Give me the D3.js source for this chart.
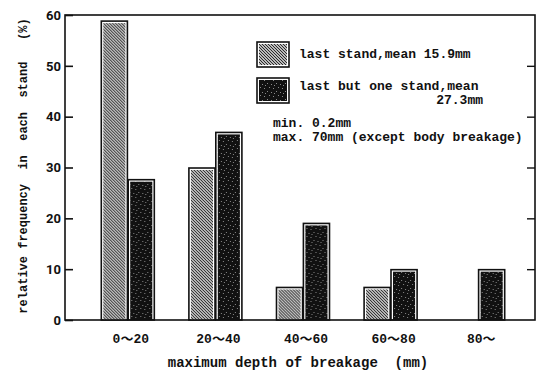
<!DOCTYPE html>
<html>
<head>
<meta charset="utf-8">
<script src="https://cdn.jsdelivr.net/npm/d3@7"></script>
<style>
  body { margin: 0; background: #fff; }
  text { fill: #111; }
</style>
</head>
<body>
<div id="chart"></div>
<script>
// data
var categories = ["0～20", "20～40", "40～60", "60～80", "80～"];
var series = ["last", "lastButOne"];
var lastStand = [58.8, 29.9, 6.4, 6.4, 0];
var lastButOneStand = [27.6, 36.9, 19.0, 9.9, 9.9];
var yTicks = [0, 10, 20, 30, 40, 50, 60];

var W = 546, H = 372;
var margin = { top: 15, right: 11, bottom: 52, left: 65 };
var width = W - margin.left - margin.right,
    height = H - margin.top - margin.bottom;

var mono = "'Liberation Mono', 'DejaVu Sans Mono', 'Noto Sans CJK JP', monospace";

var svg = d3.select("#chart").append("svg")
    .attr("width", W)
    .attr("height", H);

// patterns: fine diagonal hatch and dark speckle
var defs = svg.append("defs");
var hatch = defs.append("pattern")
    .attr("id", "hatch")
    .attr("patternUnits", "userSpaceOnUse")
    .attr("width", 3).attr("height", 3);
hatch.append("rect").attr("width", 3).attr("height", 3).attr("fill", "#fff");
hatch.append("path")
    .attr("d", "M-1,-1 L4,4 M-1,2 L1,4 M2,-1 L4,1")
    .attr("stroke", "#222").attr("stroke-width", 1.2);

var speck = defs.append("pattern")
    .attr("id", "speck")
    .attr("patternUnits", "userSpaceOnUse")
    .attr("width", 9).attr("height", 8);
speck.append("rect").attr("width", 9).attr("height", 8).attr("fill", "#111");
[[1, 1], [5, 2], [3, 5], [7, 6], [8, 3]].forEach(function(p) {
  speck.append("rect").attr("x", p[0]).attr("y", p[1])
      .attr("width", 1).attr("height", 1).attr("fill", "#888");
});

var g = svg.append("g")
    .attr("transform", "translate(" + margin.left + "," + margin.top + ")");

// scales
var x = d3.scaleBand()
    .domain(categories)
    .range([19, 457]);

var xs = d3.scaleBand()
    .domain(series)
    .range([0, 53])
    .paddingInner(0.03);

var y = d3.scaleLinear()
    .domain([0, 60])
    .range([height, 0]);

var rows = categories.map(function(c, i) {
  return { cat: c, values: [
    { key: "last", v: lastStand[i] },
    { key: "lastButOne", v: lastButOneStand[i] }
  ] };
});

// bars
var grp = g.selectAll(".grp")
    .data(rows)
    .enter().append("g")
      .attr("class", "grp")
      .attr("transform", function(d) {
        return "translate(" + (x(d.cat) + x.bandwidth() / 2 - 26.5) + ",0)";
      });

var bar = grp.selectAll(".bar")
    .data(function(d) { return d.values.filter(function(e) { return e.v > 0; }); })
    .enter().append("g")
      .attr("class", "bar");

bar.append("rect")
    .attr("x", function(d) { return xs(d.key); })
    .attr("y", function(d) { return y(d.v); })
    .attr("width", xs.bandwidth())
    .attr("height", function(d) { return height - y(d.v); })
    .attr("fill", "#fff")
    .attr("stroke", "#111")
    .attr("stroke-width", 1.6);

bar.append("rect")
    .attr("x", function(d) { return xs(d.key) + 2; })
    .attr("y", function(d) { return y(d.v) + 2; })
    .attr("width", xs.bandwidth() - 4)
    .attr("height", function(d) { return Math.max(0, height - y(d.v) - 2); })
    .attr("fill", function(d) { return d.key == "last" ? "url(#hatch)" : "url(#speck)"; });

// frame
g.append("rect")
    .attr("width", width)
    .attr("height", height)
    .attr("fill", "none")
    .attr("stroke", "#111")
    .attr("stroke-width", 1.6);

// left axis, ticks inward
var yAxis = g.append("g")
    .call(d3.axisLeft(y).tickValues(yTicks).tickSize(-8).tickPadding(4));
yAxis.select(".domain").remove();
yAxis.selectAll("line").attr("stroke", "#111").attr("stroke-width", 1.6);
yAxis.selectAll("text")
    .attr("font-family", "Roboto, 'DejaVu Sans', sans-serif")
    .attr("font-weight", "bold")
    .attr("font-size", 13);

// right axis, ticks inward
var yAxisR = g.append("g")
    .attr("transform", "translate(" + width + ",0)")
    .call(d3.axisRight(y).tickValues(yTicks.slice(1, 6)).tickSize(-8).tickFormat(""));
yAxisR.select(".domain").remove();
yAxisR.selectAll("line").attr("stroke", "#111").attr("stroke-width", 1.4);

// category labels
g.selectAll(".xlab")
    .data(categories)
    .enter().append("text")
      .attr("class", "xlab")
      .attr("x", function(d) { return x(d) + x.bandwidth() / 2 + 3; })
      .attr("y", height + 23)
      .attr("text-anchor", "middle")
      .attr("font-family", mono)
      .attr("font-weight", "bold")
      .attr("font-size", 13)
      .text(function(d) { return d; });

// axis titles
svg.append("text")
    .attr("x", 298)
    .attr("y", 367)
    .attr("text-anchor", "middle")
    .attr("font-family", mono)
    .attr("font-weight", "bold")
    .attr("font-size", 14)
    .attr("xml:space", "preserve")
    .text("maximum depth of breakage  (mm)");

svg.append("text")
    .attr("transform", "translate(27,166) rotate(-90)")
    .attr("text-anchor", "middle")
    .attr("font-family", mono)
    .attr("font-weight", "bold")
    .attr("font-size", 12)
    .attr("xml:space", "preserve")
    .text("relative frequency  in  each  stand   (%)");

// legend
var legend = svg.append("g").attr("transform", "translate(257,42)");
var legendItems = [
  { key: "last", y: 0, lines: [["last stand,mean 15.9mm", 42, 16]] },
  { key: "lastButOne", y: 36, lines: [["last but one stand,mean", 42, 12], ["27.3mm", 226, 26]] }
];
legendItems.forEach(function(d) {
  legend.append("rect")
      .attr("x", 0).attr("y", d.y)
      .attr("width", 32).attr("height", 25)
      .attr("fill", "#fff").attr("stroke", "#111").attr("stroke-width", 1.6);
  legend.append("rect")
      .attr("x", 2).attr("y", d.y + 2)
      .attr("width", 28).attr("height", 21)
      .attr("fill", d.key == "last" ? "url(#hatch)" : "url(#speck)");
  d.lines.forEach(function(l) {
    legend.append("text")
        .attr("x", l[1]).attr("y", d.y + l[2])
        .attr("text-anchor", l[1] > 100 ? "end" : "start")
        .attr("font-family", mono)
        .attr("font-weight", "bold")
        .attr("font-size", 13)
        .text(l[0]);
  });
});

var notes = ["min. 0.2mm", "max. 70mm (except body breakage)"];
svg.selectAll(".note")
    .data(notes)
    .enter().append("text")
      .attr("class", "note")
      .attr("x", 273)
      .attr("y", function(d, i) { return 127 + i * 14; })
      .attr("font-family", mono)
      .attr("font-weight", "bold")
      .attr("font-size", 13)
      .text(function(d) { return d; });
</script>
</body>
</html>
